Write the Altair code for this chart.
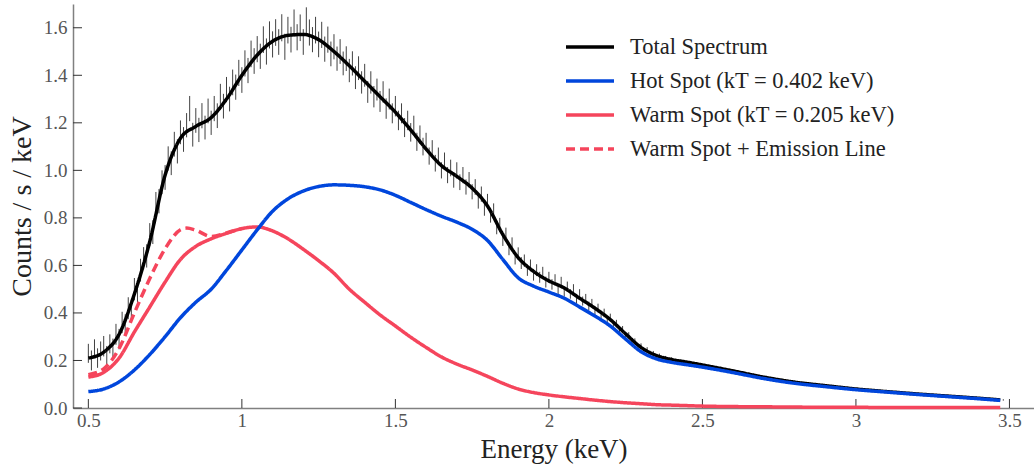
import altair as alt
import pandas as pd

# ---------------- data ----------------
DATA_E = [
    0.50, 0.51, 0.52, 0.53, 0.54, 0.55, 0.56, 0.57, 0.58, 0.59,
    0.60, 0.61, 0.62, 0.63, 0.64, 0.65, 0.66, 0.67, 0.68, 0.69,
    0.70, 0.71, 0.72, 0.73, 0.74, 0.75, 0.76, 0.77, 0.78, 0.79,
    0.80, 0.81, 0.82, 0.83, 0.84, 0.85, 0.86, 0.87, 0.88, 0.89,
    0.90, 0.91, 0.92, 0.93, 0.94, 0.95, 0.96, 0.97, 0.98, 0.99,
    1.00, 1.01, 1.02, 1.03, 1.04, 1.05, 1.06, 1.07, 1.08, 1.09,
    1.10, 1.11, 1.12, 1.13, 1.14, 1.15, 1.16, 1.17, 1.18, 1.19,
    1.20, 1.21, 1.22, 1.23, 1.24, 1.25, 1.26, 1.27, 1.28, 1.29,
    1.30, 1.31, 1.32, 1.33, 1.34, 1.35, 1.36, 1.37, 1.38, 1.39,
    1.40, 1.41, 1.42, 1.43, 1.44, 1.45, 1.46, 1.47, 1.48, 1.49,
    1.50, 1.51, 1.52, 1.53, 1.54, 1.55, 1.56, 1.57, 1.58, 1.59,
    1.60, 1.61, 1.62, 1.63, 1.64, 1.65, 1.66, 1.67, 1.68, 1.69,
    1.70, 1.71, 1.72, 1.73, 1.74, 1.75, 1.76, 1.77, 1.78, 1.79,
    1.80, 1.81, 1.82, 1.83, 1.84, 1.85, 1.86, 1.87, 1.88, 1.89,
    1.90, 1.91, 1.92, 1.93, 1.94, 1.95, 1.96, 1.97, 1.98, 1.99,
    2.00, 2.01, 2.02, 2.03, 2.04, 2.05, 2.06, 2.07, 2.08, 2.09,
    2.10, 2.11, 2.12, 2.13, 2.14, 2.15, 2.16, 2.17, 2.18, 2.19,
    2.20, 2.21, 2.22, 2.23, 2.24, 2.25, 2.26, 2.27, 2.28, 2.29,
    2.30, 2.31, 2.32, 2.33, 2.34, 2.35, 2.36, 2.37, 2.38, 2.39,
    2.40,
    2.44, 2.48, 2.52, 2.56, 2.60, 2.64, 2.68, 2.72, 2.76, 2.80,
    2.84, 2.88, 2.92, 2.96, 3.00, 3.04, 3.08, 3.12, 3.16, 3.20,
    3.24, 3.28, 3.32, 3.36, 3.40, 3.44, 3.48,
]
DATA_RATE = [
    0.23, 0.20, 0.25, 0.21, 0.24, 0.26, 0.22, 0.27, 0.25, 0.31,
    0.29, 0.36, 0.35, 0.42, 0.41, 0.50, 0.49, 0.58, 0.63, 0.64,
    0.73, 0.74, 0.86, 0.87, 0.95, 0.97, 1.05, 1.03, 1.11, 1.08,
    1.16, 1.13, 1.19, 1.26, 1.15, 1.21, 1.17, 1.23, 1.18, 1.25,
    1.20, 1.26, 1.23, 1.31, 1.27, 1.34, 1.30, 1.37, 1.35, 1.41,
    1.38, 1.45, 1.42, 1.49, 1.46, 1.51, 1.48, 1.55, 1.50, 1.57,
    1.53, 1.58, 1.54, 1.60, 1.52, 1.59, 1.55, 1.62, 1.56, 1.60,
    1.54, 1.63, 1.58, 1.55, 1.59, 1.53, 1.57, 1.51, 1.55, 1.49,
    1.52, 1.47, 1.50, 1.45, 1.47, 1.42, 1.45, 1.39, 1.43, 1.37,
    1.40, 1.33, 1.37, 1.31, 1.34, 1.29, 1.33, 1.26, 1.30, 1.24,
    1.27, 1.21, 1.24, 1.18, 1.21, 1.16, 1.19, 1.12, 1.15, 1.10,
    1.12, 1.06, 1.09, 1.03, 1.06, 1.00, 1.04, 0.98, 1.01, 0.96,
    1.00, 0.95, 0.98, 0.93, 0.96, 0.91, 0.93, 0.87, 0.90, 0.84,
    0.87, 0.81, 0.83, 0.76, 0.77, 0.71, 0.73, 0.67, 0.69, 0.63,
    0.65, 0.61, 0.62, 0.58, 0.60, 0.56, 0.58, 0.55, 0.57, 0.53,
    0.55, 0.52, 0.54, 0.50, 0.53, 0.49, 0.51, 0.48, 0.50, 0.46,
    0.48, 0.45, 0.46, 0.43, 0.44, 0.41, 0.42, 0.39, 0.40, 0.37,
    0.38, 0.35, 0.355, 0.325, 0.33, 0.30, 0.305, 0.28, 0.28, 0.255,
    0.26, 0.24, 0.245, 0.225, 0.23, 0.215, 0.22, 0.205, 0.21, 0.20,
    0.205,
    0.190, 0.182, 0.172, 0.166, 0.155, 0.145, 0.132, 0.124, 0.114, 0.109,
    0.102, 0.097, 0.090, 0.086, 0.080, 0.075, 0.072, 0.067, 0.063, 0.059,
    0.056, 0.052, 0.048, 0.045, 0.041, 0.038, 0.034,
]
DATA_ERR = [
    0.040, 0.042, 0.039, 0.041, 0.040, 0.043, 0.041, 0.040, 0.042, 0.044,
    0.043, 0.045, 0.044, 0.046, 0.045, 0.047, 0.046, 0.048, 0.047, 0.049,
    0.048, 0.050, 0.049, 0.051, 0.050, 0.052, 0.051, 0.050, 0.052, 0.051,
    0.050, 0.052, 0.051, 0.053, 0.050, 0.052, 0.051, 0.053, 0.050, 0.052,
    0.051, 0.053, 0.052, 0.054, 0.052, 0.053, 0.052, 0.054, 0.053, 0.055,
    0.054, 0.055, 0.053, 0.056, 0.054, 0.055, 0.053, 0.056, 0.055, 0.057,
    0.055, 0.056, 0.054, 0.057, 0.055, 0.056, 0.054, 0.057, 0.055, 0.056,
    0.054, 0.056, 0.055, 0.053, 0.056, 0.054, 0.055, 0.053, 0.055, 0.052,
    0.053, 0.051, 0.052, 0.050, 0.052, 0.049, 0.051, 0.048, 0.050, 0.047,
    0.048, 0.046, 0.047, 0.045, 0.046, 0.044, 0.045, 0.043, 0.044, 0.042,
    0.043, 0.041, 0.042, 0.040, 0.041, 0.039, 0.040, 0.038, 0.039, 0.037,
    0.038, 0.036, 0.037, 0.035, 0.036, 0.034, 0.035, 0.034, 0.035, 0.033,
    0.034, 0.033, 0.034, 0.032, 0.033, 0.032, 0.033, 0.031, 0.032, 0.031,
    0.031, 0.030, 0.031, 0.029, 0.030, 0.028, 0.029, 0.027, 0.028, 0.026,
    0.026, 0.025, 0.026, 0.024, 0.025, 0.024, 0.025, 0.023, 0.024, 0.023,
    0.023, 0.022, 0.023, 0.021, 0.022, 0.021, 0.022, 0.020, 0.021, 0.020,
    0.020, 0.019, 0.020, 0.018, 0.019, 0.018, 0.019, 0.017, 0.018, 0.017,
    0.017, 0.016, 0.016, 0.015, 0.015, 0.014, 0.014, 0.013, 0.013, 0.012,
    0.012, 0.011, 0.011, 0.010, 0.010, 0.010, 0.009, 0.009, 0.009, 0.008,
    0.008,
    0.008, 0.007, 0.007, 0.007, 0.006, 0.006, 0.006, 0.006, 0.005, 0.005,
    0.005, 0.005, 0.005, 0.004, 0.004, 0.004, 0.004, 0.004, 0.004, 0.003,
    0.003, 0.003, 0.003, 0.003, 0.003, 0.003, 0.003,
]

CURVE_E = [
    0.50, 0.55, 0.60, 0.65, 0.70, 0.75, 0.80, 0.85, 0.90, 0.95,
    1.00, 1.05, 1.10, 1.15, 1.20, 1.25, 1.30, 1.35, 1.40, 1.45,
    1.50, 1.55, 1.60, 1.65, 1.70, 1.75, 1.80, 1.85, 1.90, 1.95,
    2.00, 2.05, 2.10, 2.15, 2.20, 2.25, 2.30, 2.35, 2.40, 2.45,
    2.50, 2.60, 2.70, 2.80, 2.90, 3.00, 3.10, 3.20, 3.30, 3.40, 3.47,
]
TOTAL = [
    0.210, 0.235, 0.310, 0.480, 0.700, 0.980, 1.135, 1.185, 1.222, 1.300,
    1.400, 1.485, 1.543, 1.568, 1.572, 1.550, 1.500, 1.440, 1.375, 1.310,
    1.245, 1.170, 1.090, 1.020, 0.975, 0.925, 0.850, 0.730, 0.633, 0.575,
    0.535, 0.505, 0.462, 0.420, 0.372, 0.312, 0.255, 0.221, 0.204, 0.193,
    0.181, 0.156, 0.130, 0.109, 0.094, 0.080, 0.069, 0.059, 0.050, 0.041, 0.034,
]
HOT = [
    0.069, 0.080, 0.110, 0.160, 0.225, 0.300, 0.380, 0.445, 0.500, 0.580,
    0.665, 0.750, 0.828, 0.880, 0.913, 0.932, 0.939, 0.937, 0.931, 0.918,
    0.895, 0.865, 0.835, 0.807, 0.782, 0.752, 0.705, 0.625, 0.548, 0.513,
    0.488, 0.462, 0.425, 0.387, 0.345, 0.290, 0.237, 0.207, 0.192, 0.182,
    0.172, 0.149, 0.124, 0.104, 0.090, 0.077, 0.067, 0.057, 0.048, 0.039, 0.032,
]
WARM = [
    0.130, 0.150, 0.210, 0.320, 0.425, 0.530, 0.625, 0.680, 0.712, 0.735,
    0.755, 0.762, 0.745, 0.712, 0.668, 0.620, 0.567, 0.500, 0.445, 0.392,
    0.345, 0.298, 0.255, 0.215, 0.185, 0.160, 0.133, 0.104, 0.080, 0.065,
    0.055, 0.047, 0.040, 0.033, 0.027, 0.022, 0.018, 0.014, 0.012, 0.010,
    0.008, 0.006, 0.005, 0.004, 0.003, 0.003, 0.002, 0.002, 0.002, 0.002, 0.002,
]
LINE_E = [0.50, 0.55, 0.60, 0.65, 0.70, 0.75, 0.80, 0.82, 0.85, 0.90, 0.95, 1.00]
WARM_LINE = [0.140, 0.165, 0.250, 0.400, 0.545, 0.670, 0.750, 0.757, 0.748, 0.722, 0.737, 0.755]

SERIES = [
    "Total Spectrum",
    "Hot Spot (kT = 0.402 keV)",
    "Warm Spot (kT = 0.205 keV)",
    "Warm Spot + Emission Line",
]
COLORS = ["#000000", "#0046dc", "#f5455c", "#f5455c"]
DASHES = [[1, 0], [1, 0], [1, 0], [9, 5]]

XTICKS = [0.5, 1, 1.5, 2, 2.5, 3, 3.5]
YTICKS = [0.0, 0.2, 0.4, 0.6, 0.8, 1.0, 1.2, 1.4, 1.6]

# ---------------- tables ----------------
pts = pd.DataFrame({"E": DATA_E, "rate": DATA_RATE, "err": DATA_ERR})
pts["lo"] = pts["rate"] - pts["err"]
pts["hi"] = pts["rate"] + pts["err"]

frames = []
for name, ee, vv in [
    (SERIES[0], CURVE_E, TOTAL),
    (SERIES[1], CURVE_E, HOT),
    (SERIES[2], CURVE_E, WARM),
    (SERIES[3], LINE_E, WARM_LINE),
]:
    frames.append(pd.DataFrame({"E": ee, "value": vv, "series": name}))
curves = pd.concat(frames, ignore_index=True)

FONT = "Liberation Serif"
W, H = 961, 404

xscale = alt.Scale(domain=[0.45, 3.58], nice=False, zero=False)
yscale = alt.Scale(domain=[0, 1.7], nice=False, zero=False)

XAX = alt.Axis(
    values=XTICKS, format="~g", title="Energy (keV)",
    titleY=49, titleBaseline="alphabetic", titleFontSize=27,
)
YAX = alt.Axis(
    values=YTICKS, format=".1f", title="Counts / s / keV",
    titleX=-51, titleBaseline="middle", titleFontSize=28,
)

err_layer = alt.Chart(pts).mark_rule(color="#111111", opacity=0.8, strokeWidth=1).encode(
    x=alt.X("E:Q", scale=xscale, axis=XAX),
    y=alt.Y("lo:Q", scale=yscale, axis=YAX),
    y2="hi:Q",
)

xticks = alt.Chart(pd.DataFrame({"t": XTICKS})).mark_rule(color="#333333", strokeWidth=1).encode(
    x=alt.X("t:Q", scale=xscale, axis=XAX),
    y=alt.value(H),
    y2=alt.value(H - 9),
)
yticks = alt.Chart(pd.DataFrame({"t": YTICKS})).mark_rule(color="#333333", strokeWidth=1).encode(
    y=alt.Y("t:Q", scale=yscale, axis=YAX),
    x=alt.value(0),
    x2=alt.value(9),
)

LEG = alt.Legend(
    title=None, orient="none", legendX=491, legendY=32, padding=0,
    symbolType="stroke", symbolSize=2304, symbolStrokeWidth=3.5,
    clipHeight=22, rowPadding=11, labelFont=FONT, labelFontSize=22.5,
    labelColor="#222222", labelOffset=14, labelLimit=400,
)

base = alt.Chart(curves).mark_line(strokeWidth=3.5, interpolate="monotone").encode(
    x=alt.X("E:Q", scale=xscale, axis=XAX),
    y=alt.Y("value:Q", scale=yscale, axis=YAX),
    color=alt.Color("series:N", scale=alt.Scale(domain=SERIES, range=COLORS), legend=LEG),
    strokeDash=alt.StrokeDash("series:N", scale=alt.Scale(domain=SERIES, range=DASHES), legend=LEG),
)

order = [SERIES[0], SERIES[2], SERIES[3], SERIES[1]]
line_layers = [base.transform_filter(alt.datum.series == s) for s in order]

chart = alt.layer(err_layer, xticks, yticks, *line_layers).properties(
    width=W, height=H,
    autosize=alt.AutoSizeParams(type="none"),
    padding={"left": 73, "top": 4, "right": 0, "bottom": 58},
    background="white",
).configure_view(stroke=None).configure_axis(
    grid=False, ticks=False,
    domainColor="#808080", domainWidth=1.5,
    labelFont=FONT, labelFontSize=19, labelColor="#555555", labelPadding=5,
    titleFont=FONT, titleFontWeight="normal", titleColor="#222222",
).configure_axisX(labelPadding=3).configure_axisY(labelPadding=6)

chart.save("out.html", embed_options={"renderer": "svg", "actions": False})
